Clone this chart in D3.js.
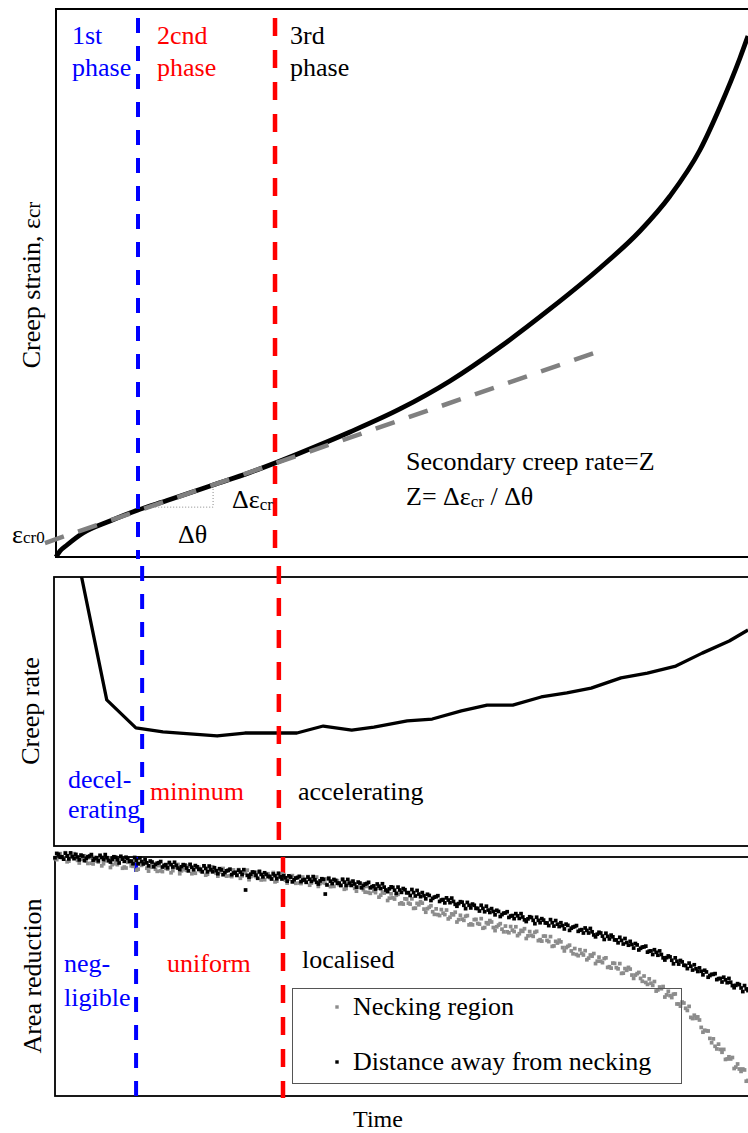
<!DOCTYPE html>
<html>
<head>
<meta charset="utf-8">
<script src="https://cdn.jsdelivr.net/npm/d3@7"></script>
<style>
    html, body { margin: 0; padding: 0; background: #fff; overflow: hidden; }
    svg { display: block; }
    svg text { font-family: "Liberation Serif", "DejaVu Serif", "Times New Roman", Times, serif; }
</style>
</head>
<body>
<div id="chart"></div>
<script>
// ---- data (time and values in arbitrary units 0..100) ----
var strainTime = [0, 0.58, 1.59, 3.9, 7.8, 11.85, 16.04, 22.69, 28.03, 31.65, 35.26, 42.49, 49.71, 56.94, 64.16, 71.39, 78.61, 84.39, 88.73, 93.06, 95.95, 98.84, 100];
var strainValue = [0, 1.09, 2.19, 4.38, 6.57, 8.58, 10.31, 13.14, 15.42, 17.15, 18.98, 22.81, 27.01, 32.12, 38.32, 45.26, 52.74, 59.49, 65.88, 74.27, 82.12, 91.06, 95.07];

// secondary creep fit (grey dashed) and the little slope triangle
var fitTime = [-1.6, 78.2];
var fitValue = [2.55, 37.4];
var triTime = [13.9, 22.7, 22.7];
var triValue = [9.1, 9.1, 13.1];

var rateTime = [3.5, 7.6, 11.8, 15.7, 23.5, 27.5, 35.0, 38.8, 42.9, 46.1, 50.9, 54.5, 58.7, 62.4, 66.1, 70.2, 73.9, 77.4, 81.7, 85.5, 89.6, 93.4, 97.3, 100];
var rateValue = [106, 54.3, 43.9, 42.4, 40.9, 42.0, 42.0, 44.6, 43.1, 44.2, 46.5, 47.2, 50.2, 52.4, 52.4, 55.4, 56.9, 58.7, 62.5, 64.3, 66.9, 71.7, 76.2, 80.3];

// phase boundaries (1st/2nd, 2nd/3rd) as drawn in each panel
var boundaryStrain = [11.85, 31.65];
var boundaryRate = [12.7, 32.4];
var boundaryArea = [11.7, 32.9];

// area reduction readings: main set at t = 0, 0.5, ... 100, mid set at t = 0.25, 0.75, ... 99.75
var areaStep = 0.5;
var neckingArea = [
    0.7, -1.2, 0.2, -1.8, 1.7, 0.0, -0.9, 2.5, 0.2, 1.7,
    0.3, 2.9, 1.6, 0.1, 2.8, 1.6, 4.4, 1.3, 3.2, 0.9,
    4.2, 2.2, 3.7, 1.6, 5.1, 3.5, 2.5, 5.9, 3.5, 5.1,
    3.6, 6.1, 4.7, 3.1, 5.7, 4.4, 7.0, 3.8, 5.6, 3.2,
    6.4, 4.4, 5.8, 3.7, 7.2, 5.6, 4.6, 8.0, 5.6, 7.1,
    5.6, 8.2, 6.8, 5.3, 7.9, 6.7, 9.5, 6.3, 8.2, 5.8,
    9.1, 7.1, 8.6, 6.5, 10.1, 8.4, 7.4, 10.9, 8.5, 10.1,
    8.6, 11.1, 9.8, 8.2, 10.9, 9.6, 12.3, 9.2, 11.0, 8.7,
    11.9, 10.0, 11.6, 9.6, 13.2, 11.7, 10.8, 14.3, 12.0, 13.7,
    12.3, 15.2, 14.2, 13.0, 16.0, 15.1, 18.2, 15.4, 17.6, 15.6,
    19.2, 17.5, 19.3, 17.5, 21.4, 20.0, 19.3, 23.1, 21.0, 22.9,
    21.7, 24.5, 23.5, 22.2, 25.2, 24.2, 27.2, 24.4, 26.5, 24.5,
    28.0, 26.2, 27.8, 25.8, 29.5, 28.0, 27.2, 30.8, 28.5, 30.2,
    28.9, 31.7, 30.6, 29.2, 32.1, 31.1, 34.1, 31.2, 33.2, 31.1,
    34.6, 33.1, 34.9, 33.3, 37.2, 36.0, 35.5, 39.3, 37.4, 39.3,
    38.3, 41.3, 40.3, 39.2, 42.3, 41.5, 44.6, 41.9, 44.2, 42.2,
    45.9, 44.4, 46.3, 44.6, 48.6, 47.4, 46.9, 50.8, 48.8, 50.8,
    49.8, 53.3, 52.8, 52.1, 55.6, 55.1, 58.6, 56.2, 58.8, 57.3,
    61.5, 60.7, 63.3, 62.5, 67.6, 67.5, 68.2, 73.3, 72.7, 75.9,
    76.1, 80.3, 80.5, 80.5, 84.5, 84.5, 88.5, 86.6, 89.7, 89.1,
    93.5
];
var neckingAreaMid = [
    1.1, -1.4, 0.5, 2.0, -0.4, -1.4, 1.4, 0.9, -0.5, 2.7,
    2.6, 0.2, 2.1, 3.7, 1.3, 0.4, 3.2, 2.8, 1.4, 4.7,
    4.6, 2.1, 3.9, 5.5, 3.0, 2.0, 4.7, 4.3, 2.8, 6.0,
    5.8, 3.3, 5.1, 6.6, 4.1, 3.1, 5.8, 5.3, 3.8, 7.0,
    6.8, 4.3, 6.1, 7.6, 5.1, 4.1, 6.8, 6.3, 4.8, 8.0,
    7.9, 5.4, 7.3, 8.9, 6.4, 5.5, 8.2, 7.8, 6.4, 9.6,
    9.5, 7.0, 8.9, 10.4, 7.9, 7.0, 9.7, 9.3, 7.8, 11.0,
    10.9, 8.4, 10.3, 11.8, 9.3, 8.4, 11.1, 10.7, 9.2, 12.4,
    12.3, 9.9, 11.9, 13.5, 11.1, 10.3, 13.1, 12.7, 11.4, 14.7,
    14.8, 12.7, 14.9, 16.8, 14.7, 14.1, 17.2, 17.1, 16.0, 19.6,
    19.7, 17.6, 19.7, 21.5, 19.4, 18.7, 21.8, 21.6, 20.4, 24.0,
    24.1, 22.0, 24.1, 25.9, 23.8, 23.1, 26.2, 26.0, 24.8, 28.4,
    28.4, 26.1, 28.1, 29.8, 27.5, 26.6, 29.5, 29.2, 27.9, 31.3,
    31.3, 29.1, 31.2, 32.9, 30.7, 30.0, 33.0, 32.8, 31.5, 35.0,
    35.2, 33.1, 35.4, 37.4, 35.3, 34.8, 37.9, 37.9, 36.9, 40.5,
    40.8, 38.8, 41.0, 43.0, 41.0, 40.4, 43.6, 43.6, 42.5, 46.2,
    46.5, 44.5, 46.8, 48.7, 46.7, 46.2, 49.4, 49.4, 48.3, 52.0,
    52.5, 51.0, 53.7, 56.1, 54.4, 54.2, 57.7, 58.0, 57.4, 61.5,
    62.4, 61.1, 64.2, 67.1, 66.2, 66.9, 71.3, 72.5, 72.8, 77.7,
    79.2, 78.3, 81.7, 84.7, 83.6, 83.9, 87.9, 88.7, 88.7, 93.8
];
var awayArea = [
    0.3, -1.1, -0.1, -1.6, 0.8, -0.2, -1.1, 1.2, -0.4, 0.5,
    -0.4, 1.3, 0.3, -0.7, 1.1, 0.3, 2.1, -0.1, 1.2, -0.3,
    1.8, 0.6, 1.7, 0.2, 2.8, 1.9, 1.2, 3.7, 2.1, 3.2,
    2.4, 4.2, 3.2, 2.3, 4.2, 3.5, 5.3, 3.2, 4.6, 3.1,
    5.3, 4.1, 5.1, 3.7, 6.2, 5.3, 4.5, 7.0, 5.4, 6.5,
    5.6, 7.4, 6.4, 5.5, 7.3, 13.8, 8.4, 6.3, 7.6, 6.2,
    8.3, 7.3, 8.1, 7.1, 9.1, 8.3, 7.9, 10.1, 8.4, 9.5,
    8.6, 10.3, 9.4, 8.4, 10.2, 9.5, 11.3, 9.1, 15.5, 9.0,
    11.1, 9.8, 10.9, 9.3, 11.9, 10.9, 10.1, 12.6, 10.9, 12.0,
    11.1, 12.9, 12.1, 11.3, 13.2, 12.6, 14.5, 12.5, 13.9, 12.6,
    14.8, 13.7, 14.9, 13.6, 16.3, 15.5, 14.9, 17.5, 16.1, 17.3,
    16.6, 18.6, 17.8, 17.1, 19.1, 18.6, 20.6, 18.7, 20.2, 19.0,
    21.3, 20.2, 21.5, 20.2, 22.9, 22.2, 21.6, 24.2, 22.8, 24.1,
    23.4, 25.3, 24.5, 23.7, 25.7, 25.1, 27.0, 25.0, 26.5, 25.2,
    27.5, 26.4, 27.6, 26.2, 28.9, 28.1, 27.5, 30.1, 28.6, 29.8,
    29.1, 31.1, 30.4, 29.7, 31.8, 31.3, 33.4, 31.5, 33.1, 31.9,
    34.3, 33.4, 34.7, 33.6, 36.4, 35.8, 35.3, 38.1, 36.8, 38.2,
    37.6, 39.8, 39.3, 38.8, 41.1, 40.8, 43.1, 41.4, 43.2, 42.2,
    44.8, 43.9, 45.4, 44.4, 47.3, 46.8, 46.4, 49.3, 48.1, 49.6,
    49.1, 51.3, 50.8, 50.3, 52.6, 52.4, 54.7, 53.0, 54.8, 53.8,
    55.9
];
var awayAreaMid = [
    -1.5, 0.1, 0.9, -0.5, -1.7, 0.7, 0.0, -0.8, 1.5, -0.1,
    -1.0, 0.7, 1.6, 0.2, -1.0, 1.5, 0.9, 0.1, 2.5, 0.9,
    0.1, 1.8, 2.8, 1.4, 0.4, 2.9, 2.4, 1.7, 4.1, 2.6,
    1.9, 3.6, 4.5, 3.2, 2.2, 4.6, 4.1, 3.4, 5.8, 4.3,
    3.6, 5.2, 6.2, 4.8, 3.8, 6.2, 5.7, 4.9, 7.4, 5.8,
    5.1, 6.7, 7.7, 6.3, 5.3, 7.7, 7.2, 6.4, 8.9, 7.3,
    6.6, 8.2, 9.2, 7.8, 6.8, 9.2, 8.7, 7.9, 10.4, 8.8,
    8.1, 9.7, 10.6, 9.3, 8.2, 10.6, 10.0, 9.3, 11.7, 10.1,
    9.4, 11.0, 11.9, 10.5, 9.4, 11.9, 11.3, 10.5, 12.9, 11.3,
    10.6, 12.4, 13.4, 12.2, 11.2, 13.8, 13.3, 12.7, 15.2, 13.8,
    13.2, 15.0, 16.1, 14.9, 14.0, 16.6, 16.2, 15.6, 18.2, 16.8,
    16.2, 18.0, 19.2, 18.0, 17.2, 19.8, 19.5, 18.9, 21.6, 20.2,
    19.7, 21.5, 22.6, 21.5, 20.6, 23.2, 22.8, 22.3, 24.9, 23.5,
    22.9, 24.7, 25.8, 24.6, 23.7, 26.3, 25.9, 25.3, 27.9, 26.5,
    25.8, 27.6, 28.7, 27.5, 26.6, 29.1, 28.7, 28.1, 30.7, 29.3,
    28.7, 30.6, 31.8, 30.7, 29.9, 32.6, 32.3, 31.8, 34.5, 33.2,
    32.7, 34.7, 35.9, 34.9, 34.1, 36.9, 36.6, 36.2, 38.9, 37.7,
    37.3, 39.4, 40.8, 39.9, 39.3, 42.2, 42.1, 41.8, 44.7, 43.6,
    43.3, 45.3, 46.7, 45.7, 45.1, 47.9, 47.8, 47.4, 50.3, 49.1,
    48.8, 50.9, 52.3, 51.4, 50.8, 53.8, 53.7, 53.4, 56.3, 55.2
];

var seriesNames = ['Necking region', 'Distance away from necking'];
var seriesColors = ['#8c8c8c', '#000000'];

(function () {
    'use strict';

    var W = 748, H = 1133, FS = 26;
    var FONT = '"Liberation Serif", "DejaVu Serif", "Times New Roman", Times, serif';
    var BLUE = '#0000ff', RED = '#ff0000';

    var svg = d3.select('#chart').append('svg')
        .attr('width', W)
        .attr('height', H)
        .attr('font-family', FONT);

    var zip = function (xs, ys) {
        return xs.map(function (x, i) { return { t: x, v: ys[i] }; });
    };

    // text with optional smaller tspans: parts are strings or {text, size, dy}
    var addText = function (x, y, fill, parts, size) {
        var t = svg.append('text')
            .attr('x', x)
            .attr('y', y)
            .attr('fill', fill)
            .attr('font-family', FONT)
            .style('font-size', (size || FS) + 'px');
        parts.forEach(function (p) {
            if (typeof p === 'string') {
                t.append('tspan').text(p);
            } else {
                var s = t.append('tspan').style('font-size', (p.size || FS) + 'px').text(p.text);
                if (p.dy) s.attr('dy', p.dy);
            }
        });
        return t;
    };

    var frame = function (left, top, bottom, sw) {
        svg.append('rect')
            .attr('x', left)
            .attr('y', top)
            .attr('width', W - left + 10)
            .attr('height', bottom - top)
            .attr('fill', 'none')
            .attr('stroke', '#000')
            .attr('stroke-width', sw);
    };

    var boundaries = function (x, times, y1, y2) {
        var style = [
            { color: BLUE, width: 4, dash: '15,13' },
            { color: RED, width: 4.5, dash: '18,14' }
        ];
        times.forEach(function (t, i) {
            svg.append('line')
                .attr('x1', x(t)).attr('x2', x(t))
                .attr('y1', y1).attr('y2', y2)
                .attr('stroke', style[i].color)
                .attr('stroke-width', style[i].width)
                .attr('stroke-dasharray', style[i].dash);
        });
    };

    var yLabel = function (x, y, build) {
        svg.append('text')
            .attr('transform', 'translate(' + x + ',' + y + ') rotate(-90)')
            .attr('text-anchor', 'middle')
            .attr('font-family', FONT)
            .style('font-size', FS + 'px')
            .call(build);
    };

    // ---------------- top: creep strain ----------------
    var xS = d3.scaleLinear().domain([0, 100]).range([56, 748]);
    var yS = d3.scaleLinear().domain([0, 100]).range([557, 9]);
    var lineS = d3.line()
        .x(function (d) { return xS(d.t); })
        .y(function (d) { return yS(d.v); });

    frame(56, 9, 557, 2);

    svg.append('path')
        .datum(zip(strainTime, strainValue))
        .attr('d', lineS.curve(d3.curveMonotoneX))
        .attr('fill', 'none')
        .attr('stroke', '#000')
        .attr('stroke-width', 4.8)
        .attr('stroke-linejoin', 'round');

    svg.append('path')
        .datum(zip(fitTime, fitValue))
        .attr('d', lineS.curve(d3.curveLinear))
        .attr('fill', 'none')
        .attr('stroke', '#808080')
        .attr('stroke-width', 4.5)
        .attr('stroke-dasharray', '20,15');

    svg.append('path')
        .datum(zip(triTime, triValue))
        .attr('d', lineS.curve(d3.curveLinear))
        .attr('fill', 'none')
        .attr('stroke', '#888')
        .attr('stroke-width', 1)
        .attr('stroke-dasharray', '1,2');

    boundaries(xS, boundaryStrain, 18, 559);

    addText(72, 44, BLUE, ['1st']);
    addText(72, 76, BLUE, ['phase']);
    addText(157, 44, RED, ['2cnd']);
    addText(157, 76, RED, ['phase']);
    addText(290, 44, '#000', ['3rd']);
    addText(290, 76, '#000', ['phase']);

    addText(12, 543, '#000', ['\u03b5', { text: 'cr0', size: 17 }]);
    addText(178, 543, '#000', ['\u0394\u03b8']);
    addText(232, 508, '#000', ['\u0394\u03b5', { text: 'cr', size: 17, dy: 2 }]);
    addText(406, 470, '#000', ['Secondary creep rate=Z']);
    addText(406, 505, '#000', ['Z= \u0394\u03b5', { text: 'cr', size: 17, dy: 2 }, { text: ' / \u0394\u03b8', size: FS, dy: -2 }]);

    yLabel(40, 285, function (t) {
        t.append('tspan').text('Creep strain, \u03b5');
        t.append('tspan').style('font-size', '21px').text('cr');
    });

    // ---------------- middle: creep rate ----------------
    var xR = d3.scaleLinear().domain([0, 100]).range([54, 748]);
    var yR = d3.scaleLinear().domain([0, 100]).range([846, 577]);

    svg.append('clipPath').attr('id', 'clip-rate')
        .append('rect').attr('x', 54).attr('y', 577).attr('width', W).attr('height', 269);

    frame(54, 577, 846, 1.8);

    svg.append('path')
        .datum(zip(rateTime, rateValue))
        .attr('clip-path', 'url(#clip-rate)')
        .attr('d', d3.line()
            .x(function (d) { return xR(d.t); })
            .y(function (d) { return yR(d.v); }))
        .attr('fill', 'none')
        .attr('stroke', '#000')
        .attr('stroke-width', 3.3)
        .attr('stroke-linejoin', 'round');

    boundaries(xR, boundaryRate, 566, 846);

    addText(68, 788, BLUE, ['decel-']);
    addText(68, 818, BLUE, ['erating']);
    addText(150, 800, RED, ['mininum']);
    addText(298, 800, '#000', ['accelerating']);

    yLabel(39, 711, function (t) { t.text('Creep rate'); });

    // ---------------- bottom: area reduction ----------------
    var xA = d3.scaleLinear().domain([0, 100]).range([55, 748]);
    var yA = d3.scaleLinear().domain([0, 100]).range([857, 1096]);
    var M = 3.7;

    frame(55, 857, 1096, 1.8);
    boundaries(xA, boundaryArea, 857, 1098);

    var readings = [
        [neckingArea, 0, 0], [neckingAreaMid, 0.25, 0],
        [awayArea, 0, 1], [awayAreaMid, 0.25, 1]
    ];
    readings.forEach(function (r) {
        svg.append('g')
            .selectAll('rect')
            .data(r[0])
            .enter()
            .append('rect')
            .attr('x', function (d, i) { return xA(r[1] + i * areaStep) - M / 2; })
            .attr('y', function (d) { return yA(d) - M / 2; })
            .attr('width', M)
            .attr('height', M)
            .attr('fill', seriesColors[r[2]]);
    });

    addText(64, 972, BLUE, ['neg-']);
    addText(64, 1006, BLUE, ['ligible']);
    addText(167, 972, RED, ['uniform']);
    addText(302, 968, '#000', ['localised']);

    // legend
    svg.append('rect')
        .attr('x', 292.5).attr('y', 988.5)
        .attr('width', 389).attr('height', 95)
        .attr('fill', 'none')
        .attr('stroke', '#555')
        .attr('stroke-width', 1);
    seriesNames.forEach(function (name, k) {
        var cy = 1007 + k * 55;
        svg.append('rect')
            .attr('x', 337 - 1.7).attr('y', cy - 1.7)
            .attr('width', 3.4).attr('height', 3.4)
            .attr('fill', seriesColors[k]);
        addText(353, cy + 8, '#000', [name]);
    });

    yLabel(41, 976, function (t) { t.text('Area reduction'); });

    svg.append('text')
        .attr('x', 378)
        .attr('y', 1127)
        .attr('text-anchor', 'middle')
        .attr('font-family', FONT)
        .style('font-size', '24px')
        .text('Time');
}());
</script>
</body>
</html>
